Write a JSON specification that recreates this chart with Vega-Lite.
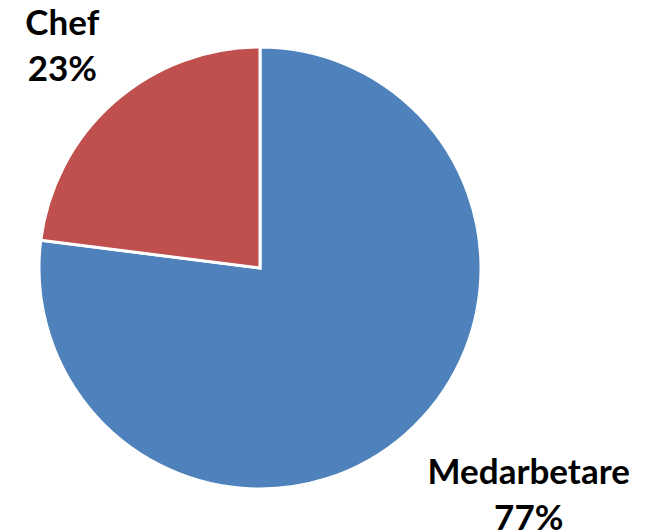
{
  "$schema": "https://vega.github.io/schema/vega-lite/v6.json",
  "width": 520,
  "height": 536,
  "autosize": "none",
  "padding": {"left": 0, "top": 0, "right": 142, "bottom": 0},
  "background": "white",
  "view": {"stroke": null},
  "data": {"values": [
    {"category": "Medarbetare", "percent": 77},
    {"category": "Chef", "percent": 23}
  ]},
  "transform": [{"calculate": "datum.category + '\\n' + datum.percent + '%'", "as": "label"}],
  "encoding": {
    "theta": {"field": "percent", "type": "quantitative", "stack": true},
    "order": {"field": "percent", "sort": "descending"}
  },
  "layer": [
    {
      "mark": {"type": "arc", "outerRadius": 221, "stroke": "white", "strokeWidth": 3},
      "encoding": {
        "color": {"field": "category", "type": "nominal", "scale": {"domain": ["Medarbetare", "Chef"], "range": ["#4F81BD", "#C0504D"]}, "legend": null}
      }
    },
    {
      "mark": {"type": "text", "radius": 299, "dy": -20, "lineBreak": "\n", "font": "Lato", "fontWeight": "bold", "fontSize": 35, "lineHeight": 46, "align": "center", "baseline": "middle", "color": "black"},
      "encoding": {"text": {"condition": {"test": "datum.category == 'Chef'", "field": "label"}, "value": ""}}
    },
    {
      "mark": {"type": "text", "radius": 299, "dx": 71, "dy": -19, "lineBreak": "\n", "font": "Lato", "fontWeight": "bold", "fontSize": 35, "lineHeight": 46, "align": "center", "baseline": "middle", "color": "black"},
      "encoding": {"text": {"condition": {"test": "datum.category == 'Medarbetare'", "field": "label"}, "value": ""}}
    }
  ]
}
